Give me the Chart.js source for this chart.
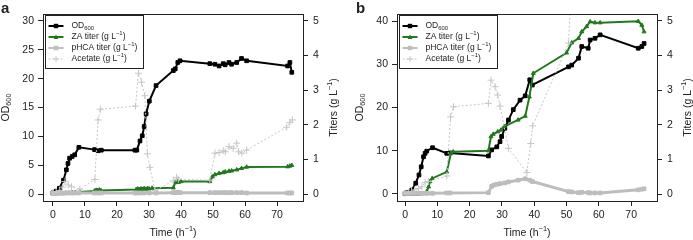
<!DOCTYPE html>
<html>
<head>
<meta charset="utf-8">
<script src="https://cdn.jsdelivr.net/npm/chart.js@4.4.1/dist/chart.umd.min.js"></script>
<style>
  body { margin: 0; background: #fff; width: 693px; height: 240px; overflow: hidden; position: relative; }
  .panel { position: absolute; top: 0; height: 240px; }
</style>
</head>
<body>
<div class="panel" style="left:0;width:346px"><canvas id="chartA" width="346" height="240"></canvas></div>
<div class="panel" style="left:346px;width:347px"><canvas id="chartB" width="347" height="240"></canvas></div>
<script>
const FONT = "'Liberation Sans', Arial, Helvetica, sans-serif";
const INK = '#222';
const GREEN = '#23781f';
const GREY = '#bdbdbd';
const ACE = '#c6c6c6';

// ---- panel a ----
const odA_t = [0, 1, 2, 3.3, 4.2, 4.7, 5.2, 6, 6.8, 8.1, 13, 14.1, 15.1, 25.6, 26.2, 27.2, 27.9, 28.5, 29.1, 30.1, 32.2, 37.6, 38.2, 39, 39.7, 49, 50.6, 51.9, 53.2, 53.8, 55, 55.8, 57.4, 58.9, 60.5, 73.3, 74, 74.6];
const odA   = [0.2, 0.5, 1, 2.4, 4.2, 5.3, 6.2, 6.5, 6.8, 8.1, 7.7, 7.5, 7.6, 7.6, 7.6, 9.2, 10.1, 11.7, 13.9, 16.1, 18.8, 21.4, 21.7, 22.8, 23.1, 22.6, 22.5, 22.2, 22.6, 22.4, 22.8, 22.5, 22.8, 23.5, 23.1, 22.2, 22.8, 21.1];
const zaA_t = [0, 1, 2, 3, 4, 5, 6, 7, 8.4, 13, 13.5, 14, 14.5, 15, 26, 26.5, 27, 27.5, 28, 28.5, 29, 29.5, 30, 31, 37.6, 38.2, 38.7, 39.2, 40, 49, 49.8, 50.6, 51.9, 53.2, 53.8, 55, 55.8, 57.4, 58.9, 60.5, 73.3, 74, 74.6];
const zaA   = [0.01, 0.01, 0.02, 0.02, 0.03, 0.03, 0.04, 0.05, 0.06, 0.09, 0.11, 0.1, 0.12, 0.1, 0.13, 0.15, 0.13, 0.15, 0.14, 0.16, 0.14, 0.16, 0.15, 0.17, 0.18, 0.33, 0.38, 0.34, 0.36, 0.36, 0.5, 0.56, 0.6, 0.62, 0.64, 0.66, 0.67, 0.7, 0.74, 0.78, 0.79, 0.81, 0.83];
const phA_t = [0, 1, 2, 3.3, 4.2, 5.2, 6, 6.8, 8.1, 13, 14.1, 15.1, 25.6, 26.2, 27.2, 28.5, 30.1, 32.2, 37.6, 38.2, 39, 39.7, 49, 50.6, 51.9, 53.2, 53.8, 55, 55.8, 57.4, 58.9, 60.5, 73.3, 74, 74.6];
const phA   = [0.02, 0.02, 0.02, 0.02, 0.03, 0.03, 0.03, 0.03, 0.03, 0.03, 0.03, 0.03, 0.03, 0.03, 0.03, 0.03, 0.03, 0.03, 0.04, 0.04, 0.05, 0.04, 0.04, 0.04, 0.04, 0.04, 0.04, 0.04, 0.04, 0.04, 0.04, 0.03, 0.03, 0.03, 0.03];
const acA_t = [0, 1, 2, 3, 3.75, 4.8, 5.8, 8.4, 13.1, 14.1, 14.8, 25.8, 26.7, 27.7, 28.7, 29.5, 30.3, 31.9, 37.6, 38.6, 39.2, 49, 50.6, 51.9, 53.2, 53.8, 55, 56.3, 57.4, 58, 59, 60.5, 73, 74, 74.8];
const acA   = [0.05, 0.05, 0.1, 0.2, 0.36, 0.26, 0.21, 0.14, 0.42, 2.14, 2.45, 2.54, 3.49, 3.23, 2.84, 1.16, 0.77, 0.1, 0.38, 0.48, 0.43, 0.4, 1.18, 1.2, 1.25, 1.22, 1.37, 1.32, 1.47, 1.22, 1.18, 1.27, 1.93, 2.07, 2.14];

// ---- panel b ----
const odB_t = [0, 0.5, 2.1, 3.3, 4.3, 5, 5.7, 6.2, 6.7, 8.5, 12.9, 13.9, 25.8, 26.8, 28.4, 29.4, 29.9, 30.9, 32, 33.5, 35.6, 37.2, 38.6, 39.4, 50.6, 51.6, 53.7, 54.7, 56.7, 57.3, 58.8, 60.4, 72.2, 73.3, 74];
const odB   = [0.1, 0.3, 0.9, 2.5, 4.4, 6.3, 8.6, 9.4, 9.9, 10.7, 9.4, 9.5, 8.8, 10.2, 10.9, 12.1, 13.3, 15.2, 17.1, 19.5, 21.7, 22.7, 26.4, 25.2, 29.4, 29.8, 31.4, 34.1, 33.7, 35.6, 36, 36.8, 33.7, 34.1, 34.8];
const zaB_t = [0, 1, 2, 3, 4, 5, 6, 6.7, 7.3, 7.7, 8.4, 12.9, 14.2, 14.9, 25.8, 26.6, 27.3, 28.7, 29.7, 30.7, 35, 37.2, 38.5, 39.7, 50, 51.6, 53.7, 54.7, 56.2, 57.3, 58.8, 60.4, 72.2, 73.3, 74];
const zaB   = [0, 0, 0, 0, 0, 0.01, 0.02, 0.07, 0.21, 0.36, 0.45, 0.64, 1.18, 1.22, 1.25, 1.66, 1.73, 1.8, 1.85, 1.95, 2.14, 2.25, 2.81, 3.49, 4.08, 4.37, 4.5, 4.69, 4.84, 4.98, 4.95, 4.95, 4.99, 4.88, 4.69];
const phB_t = [0, 1, 2, 3, 4, 5, 6, 7, 8.5, 12.9, 13.9, 25.8, 26.8, 27.5, 28.4, 29.4, 30.9, 32, 35, 37.2, 38.6, 39.4, 50.6, 51.6, 53.7, 54.7, 56.7, 57.3, 58.8, 60.4, 72.2, 73.3, 74];
const phB   = [0.02, 0.02, 0.02, 0.02, 0.02, 0.02, 0.02, 0.02, 0.02, 0.03, 0.03, 0.04, 0.22, 0.26, 0.28, 0.3, 0.32, 0.35, 0.4, 0.44, 0.4, 0.36, 0.07, 0.06, 0.04, 0.05, 0.04, 0.03, 0.03, 0.03, 0.12, 0.14, 0.15];
const acB_t = [0, 1, 2, 3, 4.2, 5.2, 6.2, 7.2, 12.9, 14.1, 15, 25.8, 26.6, 27.9, 28.7, 29.4, 32, 37.7, 38.9, 39.5, 50.6, 51.8];
const acB   = [0.02, 0.05, 0.08, 0.12, 0.16, 0.21, 0.33, 0.36, 0.52, 2.23, 2.52, 2.62, 3.29, 3.1, 2.86, 2.54, 1.32, 0.62, 1.46, 1.97, 4.36, 6.5];

const timeTicks = [0, 10, 20, 30, 40, 50, 60, 70];
const odTicksA = [0, 5, 10, 15, 20, 25, 30];
const odTicksB = [0, 10, 20, 30, 40];
const titerTicks = [0, 1, 2, 3, 4, 5];

function pts(t, v) { return t.map((x, i) => ({ x: x, y: v[i] })); }

function makeSets(od, za, ph, ac) {
  return [
    { data: od, yAxisID: 'y', order: 4, borderColor: '#000', backgroundColor: '#000', borderWidth: 2,
      pointStyle: 'rect', pointRadius: 2.6, pointBorderWidth: 1 },
    { data: za, yAxisID: 'y2', order: 3, borderColor: GREEN, backgroundColor: GREEN, borderWidth: 2,
      pointStyle: 'triangle', pointRadius: 2.3, pointBorderWidth: 1 },
    { data: ph, yAxisID: 'y2', order: 2, borderColor: GREY, backgroundColor: GREY, borderWidth: 3,
      pointStyle: 'rect', pointRadius: 2.6, pointBorderWidth: 1 },
    { data: ac, yAxisID: 'y2', order: 1, borderColor: ACE, backgroundColor: ACE, borderWidth: 1, borderDash: [2, 2],
      pointStyle: 'cross', pointRadius: 3.5, pointBorderWidth: 1 }
  ].map(d => Object.assign({ showLine: true, tension: 0, fill: false }, d));
}

// text with sub/superscript pieces: [text, 0|1|-1]
function richText(ctx, parts, x, y, size, align) {
  const fonts = parts.map(p => (p[1] ? size * 0.7 : size) + 'px ' + FONT);
  let w = 0;
  parts.forEach((p, i) => { ctx.font = fonts[i]; w += ctx.measureText(p[0]).width; });
  let cx = align === 'center' ? x - w / 2 : x;
  ctx.textAlign = 'left';
  ctx.textBaseline = 'middle';
  parts.forEach((p, i) => {
    ctx.font = fonts[i];
    const dy = p[1] === 1 ? -size * 0.38 : (p[1] === -1 ? size * 0.3 : 0);
    ctx.fillText(p[0], cx, y + dy);
    cx += ctx.measureText(p[0]).width;
  });
}

function marker(ctx, style, x, y, r) {
  if (style === 'rect') {
    ctx.fillRect(x - r, y - r, 2 * r, 2 * r);
  } else if (style === 'triangle') {
    ctx.beginPath(); ctx.moveTo(x, y - r); ctx.lineTo(x + r, y + r * 0.8); ctx.lineTo(x - r, y + r * 0.8); ctx.closePath(); ctx.fill();
  } else {
    ctx.setLineDash([]); ctx.lineWidth = 1;
    ctx.beginPath(); ctx.moveTo(x - r, y); ctx.lineTo(x + r, y); ctx.moveTo(x, y - r); ctx.lineTo(x, y + r); ctx.stroke();
  }
}

const legendItems = [
  { label: [['OD', 0], ['600', -1]], color: '#000', lw: 2, style: 'rect', r: 2.2 },
  { label: [['ZA titer (g L', 0], ['\u22121', 1], [')', 0]], color: GREEN, lw: 2, style: 'triangle', r: 2.4 },
  { label: [['pHCA titer (g L', 0], ['\u22121', 1], [')', 0]], color: GREY, lw: 2, style: 'rect', r: 2.2 },
  { label: [['Acetate (g L', 0], ['\u22121', 1], [')', 0]], color: ACE, lw: 1, dash: [2, 2], style: 'cross', r: 3 }
];

const framePlugin = {
  id: 'frame',
  afterDraw(chart, args, opts) {
    const ctx = chart.ctx, a = chart.chartArea;
    ctx.save();
    // plot box
    ctx.strokeStyle = INK; ctx.lineWidth = 1; ctx.setLineDash([]);
    ctx.strokeRect(Math.round(a.left) + 0.5, Math.round(a.top) + 0.5, Math.round(a.right - a.left), Math.round(a.bottom - a.top));
    // legend
    const lx = Math.round(a.left) + 2.5, ly = Math.round(a.top) + 1.5;
    ctx.fillStyle = '#fff';
    ctx.fillRect(lx, ly, 98, 53);
    ctx.strokeRect(lx, ly, 98, 53);
    legendItems.forEach((it, i) => {
      const y = ly + 10.5 + i * 11;
      ctx.strokeStyle = it.color; ctx.fillStyle = it.color;
      ctx.lineWidth = it.lw; ctx.setLineDash(it.dash || []);
      ctx.beginPath(); ctx.moveTo(lx + 3, y); ctx.lineTo(lx + 18, y); ctx.stroke();
      marker(ctx, it.style, lx + 10.5, y, it.r);
      ctx.fillStyle = INK;
      richText(ctx, it.label, lx + 26, y, 8.5, 'left');
    });
    // axis titles
    ctx.fillStyle = INK;
    const cy = (a.top + a.bottom) / 2;
    richText(ctx, [['Time (h', 0], ['\u22121', 1], [')', 0]], (a.left + a.right) / 2, 233, 10.5, 'center');
    ctx.save();
    ctx.translate(a.left - 37, cy); ctx.rotate(-Math.PI / 2);
    richText(ctx, [['OD', 0], ['600', -1]], 0, 0, 10.5, 'center');
    ctx.restore();
    ctx.save();
    ctx.translate(a.right + 31, cy); ctx.rotate(-Math.PI / 2);
    richText(ctx, [['Titers (g L', 0], ['\u22121', 1], [')', 0]], 0, 0, 10.5, 'center');
    ctx.restore();
    // panel letter
    ctx.font = 'bold 15px ' + FONT;
    ctx.textAlign = 'left'; ctx.textBaseline = 'alphabetic';
    ctx.fillText(opts.letter, opts.letterX, 13);
    ctx.restore();
  }
};

function fixedTicks(list) { return s => { s.ticks = list.map(v => ({ value: v })); }; }

function makeChart(id, sets, cfg) {
  const tickFont = { family: FONT, size: 10.5 };
  const grid = { drawOnChartArea: false, color: INK, tickLength: 5, tickWidth: 1 };
  new Chart(document.getElementById(id), {
    type: 'scatter',
    data: { datasets: sets },
    plugins: [framePlugin],
    options: {
      responsive: false,
      animation: false,
      events: [],
      layout: { padding: { top: 14, left: 0, right: 0, bottom: 0 } },
      plugins: {
        legend: { display: false },
        tooltip: { enabled: false },
        frame: { letter: cfg.letter, letterX: cfg.letterX }
      },
      scales: {
        x: { type: 'linear', min: cfg.xMin, max: cfg.xMax, grid: grid, border: { display: false },
             afterBuildTicks: fixedTicks(timeTicks), afterFit: s => { s.height = 39; },
             ticks: { font: tickFont, color: INK, padding: 3, maxRotation: 0, autoSkip: false } },
        y: { type: 'linear', position: 'left', min: cfg.yMin, max: cfg.yMax, grid: grid, border: { display: false },
             afterBuildTicks: fixedTicks(cfg.odTicks), afterFit: s => { s.width = cfg.leftW; },
             ticks: { font: tickFont, color: INK, padding: 4 } },
        y2: { type: 'linear', position: 'right', min: -0.202, max: 5.202, grid: grid, border: { display: false },
              afterBuildTicks: fixedTicks(titerTicks), afterFit: s => { s.width = cfg.rightW; },
              ticks: { font: tickFont, color: INK, padding: 5 } }
      }
    }
  });
}

makeChart('chartA', makeSets(pts(odA_t, odA), pts(zaA_t, zaA), pts(phA_t, phA), pts(acA_t, acA)),
  { letter: 'a', letterX: 1, xMin: -3.1, xMax: 78.1, yMin: -1.21, yMax: 31.21, odTicks: odTicksA, leftW: 43, rightW: 43 });
makeChart('chartB', makeSets(pts(odB_t, odB), pts(zaB_t, zaB), pts(phB_t, phB), pts(acB_t, acB)),
  { letter: 'b', letterX: 10, xMin: -2.5, xMax: 78, yMin: -1.62, yMax: 41.62, odTicks: odTicksB, leftW: 51, rightW: 36 });
</script>
</body>
</html>
